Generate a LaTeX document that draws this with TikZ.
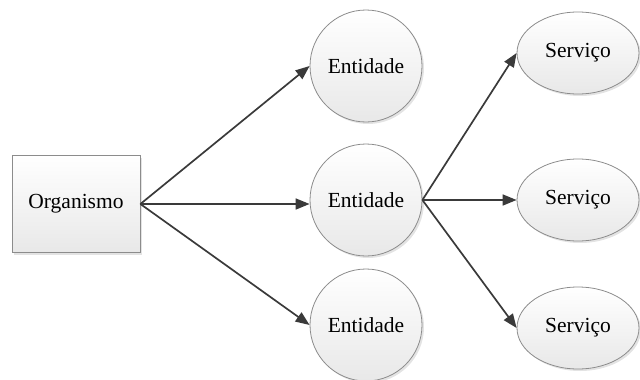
\documentclass[tikz,border=0pt]{standalone}
\usepackage{fontspec}
\setmainfont{Liberation Serif}
\usetikzlibrary{arrows.meta,shadows,shapes.geometric}

\definecolor{edgegray}{HTML}{8C8C8C}
\definecolor{arrowgray}{HTML}{3A3A3A}

\begin{document}
\begin{tikzpicture}[x=1pt,y=-1pt,
  base/.style={draw=edgegray, line width=0.8pt, top color=white, bottom color=black!9,
               font=\fontsize{21.5}{24}\selectfont, inner sep=0pt,
               drop shadow={shadow xshift=2pt, shadow yshift=-2pt, fill=black!18, opacity=0.6}},
  orgbox/.style={base, rectangle, minimum width=128pt, minimum height=97pt},
  entcircle/.style={base, circle, minimum size=112pt},
  servell/.style={base, ellipse, minimum width=122pt, minimum height=82pt},
  link/.style={draw=arrowgray, line width=1.7pt, -{Triangle[length=14pt,width=11pt]}}
]
\useasboundingbox (0,0) rectangle (640,380);

\node[orgbox] (org) at (76,204) {Organismo};

\node[entcircle] (e1) at (366,66) {Entidade};
\node[entcircle] (e2) at (366,200) {Entidade};
\node[entcircle] (e3) at (366,325) {Entidade};

\node[servell] (s1) at (578,53) {Serviço};
\node[servell] (s2) at (578,200) {Serviço};
\node[servell] (s3) at (578,328) {Serviço};

\draw[link] (org.east) -- (e1.west);
\draw[link] (org.east) -- (org.east -| e2.west);
\draw[link] (org.east) -- (e3.west);

\draw[link] (e2.east) -- (s1.west);
\draw[link] (e2.east) -- (s2.west);
\draw[link] (e2.east) -- (s3.west);
\end{tikzpicture}
\end{document}
